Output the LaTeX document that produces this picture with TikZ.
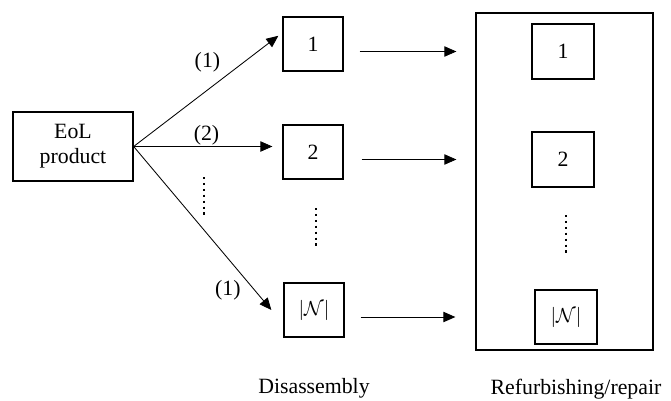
\documentclass[tikz,border=0pt]{standalone}
\usepackage{fontspec}
\setmainfont{Liberation Serif}
\usetikzlibrary{arrows.meta}
\tikzset{
	box/.style={draw, line width=0.9pt, minimum width=1.5cm, minimum height=1.35cm, inner sep=0pt, font=\fontsize{15.5}{18}\selectfont},
	flow/.style={-{Triangle[length=0.3cm, width=0.26cm]}, line width=0.6pt},
	dots/.style={line width=1.9pt, dash pattern=on 1.6pt off 2.6pt},
	lbl/.style={inner sep=0pt, font=\fontsize{15.5}{18}\selectfont}
}
\begin{document}
\begin{tikzpicture}[x=0.025cm, y=-0.025cm]
	\useasboundingbox (0,0) rectangle (671,401);
	% disassembly side
	\node [box, minimum width=3cm, minimum height=1.725cm, align=center] (eol) at (73,146.5) {EoL\\product};
	\node [box] (d1) at (313,44) {1};
	\node [box] (d2) at (313,152) {2};
	\node [box] (dn) at (314,310) {$|\mathcal{N}|$};
	% refurbishing side
	\node [draw, line width=0.9pt, minimum width=4.425cm, minimum height=8.425cm] (refurb) at (564.5,181.5) {};
	\node [box, minimum width=1.55cm, minimum height=1.375cm] (r1) at (563,51.5) {1};
	\node [box, minimum width=1.55cm, minimum height=1.375cm] (r2) at (563,159.5) {2};
	\node [box, minimum width=1.55cm, minimum height=1.35cm] (rn) at (566,317) {$|\mathcal{N}|$};

	\draw [flow] (eol.east) -- node [lbl, pos=.51, yshift=0.7cm] {(1)} ([xshift=-0.1cm]d1.165);
	\draw [flow, shorten >=0.25cm] (eol.east) -- node [lbl, pos=.49, yshift=0.28cm] {(2)} (eol.east -| d2.west);
	\draw [flow] (eol.east) -- node [lbl, pos=.88, xshift=-0.675cm] {(1)} ([xshift=-0.3cm]dn.west);

	\draw [flow, shorten <=0.4cm, shorten >=0.475cm] (d1.east |- r1.west) -- (refurb.west |- r1.west);
	\draw [flow, shorten <=0.45cm, shorten >=0.475cm] (d2.east |- r2.west) -- (refurb.west |- r2.west);
	\draw [flow, shorten <=0.4cm, shorten >=0.5cm] (dn.east |- rn.west) -- (refurb.west |- rn.west);

	\draw [dots] (204,177) -- (204,217);
	\draw [dots] (316,208) -- (316,248);
	\draw [dots] (566,215) -- (566,256);

	\node [lbl] (dlabel) at (314,388) {Disassembly};
	\node [lbl] (rlabel) at (576,389) {Refurbishing/repair};
\end{tikzpicture}
\end{document}
